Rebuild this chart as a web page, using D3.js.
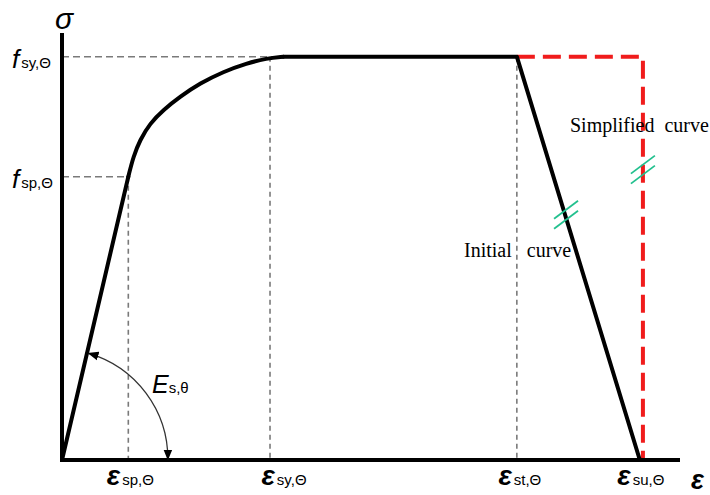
<!DOCTYPE html>
<html><head><meta charset="utf-8">
<script src="https://cdn.jsdelivr.net/npm/d3@7"></script>
<style>
html,body{margin:0;padding:0;background:#fff;}
svg{display:block;}
</style>
</head><body>
<svg id="chart" width="710" height="495"></svg>
<script>
// ---- data (abstract strain / stress units) ----
const strainKeys = [10.73, 33.66, 73.6, 93.5];          // εsp, εsy, εst, εsu
const strainSubs = ["sp,Θ", "sy,Θ", "st,Θ", "su,Θ"];
const stressKeys = [66.35, 94.45];                      // fsp, fsy
const stressSubs = ["sp,Θ", "sy,Θ"];
// initial (EC) curve: elastic branch, knee, plateau, descending branch
const elasticBranch = [[0, 0], [10.73, 66.35]];
const kneeBranch = [[10.73, 66.35], [11.54, 71.03], [12.62, 74.94], [14.24, 78.85], [16.39, 81.97], [19.09, 85.08],
  [22.33, 88.22], [26.10, 90.94], [29.89, 92.90], [33.12, 94.07], [35.81, 94.45]];
const plateauBranch = [[35.81, 94.45], [73.6, 94.45], [93.5, 0]];
// simplified curve
const simplifiedCurve = [[73.6, 94.45], [94.0, 94.45], [94.0, 0]];
const curveLabels = ["Initial   curve", "Simplified  curve"];

const svg = d3.select("#chart");
const x = d3.scaleLinear().domain([0, 100]).range([62, 680]);
const y = d3.scaleLinear().domain([0, 100]).range([460, 33]);

const line = d3.line().x(d => x(d[0])).y(d => y(d[1]));
const lineCurve = d3.line().x(d => x(d[0])).y(d => y(d[1])).curve(d3.curveBasis);

const grey = "#7a7a7a";
// dashed reference lines
const gDash = svg.append("g").attr("stroke", grey).attr("stroke-width", 1.6).attr("stroke-dasharray", "7,4").attr("fill", "none");
gDash.append("line").attr("x1", x(0)).attr("x2", x(strainKeys[0])).attr("y1", y(stressKeys[0])).attr("y2", y(stressKeys[0]));
gDash.append("line").attr("x1", x(0)).attr("x2", x(strainKeys[1]) + 6).attr("y1", y(stressKeys[1])).attr("y2", y(stressKeys[1]));
const vDash = svg.append("g").attr("stroke", grey).attr("stroke-width", 1.6).attr("stroke-dasharray", "5,4").attr("fill", "none");
vDash.append("line").attr("x1", x(strainKeys[0])).attr("x2", x(strainKeys[0])).attr("y1", y(stressKeys[0])).attr("y2", y(0));
vDash.append("line").attr("x1", x(strainKeys[1])).attr("x2", x(strainKeys[1])).attr("y1", y(stressKeys[1])).attr("y2", y(0));
vDash.append("line").attr("x1", x(strainKeys[2])).attr("x2", x(strainKeys[2])).attr("y1", y(stressKeys[1])).attr("y2", y(0));

// simplified curve (red dashed)
svg.append("path").attr("d", line(simplifiedCurve))
  .attr("fill", "none").attr("stroke", "#f01c1c").attr("stroke-width", 4)
  .attr("stroke-dasharray", "18,8").attr("stroke-linejoin", "round");

// initial curve
const cg = svg.append("g").attr("fill", "none").attr("stroke", "#000").attr("stroke-width", 4).attr("stroke-linejoin", "round").attr("stroke-linecap", "round");
cg.append("path").attr("d", line(elasticBranch));
cg.append("path").attr("d", lineCurve(kneeBranch));
cg.append("path").attr("d", line(plateauBranch));

// axes
svg.append("line").attr("x1", x(0)).attr("x2", x(0)).attr("y1", y(100)).attr("y2", y(0) + 2)
  .attr("stroke", "#000").attr("stroke-width", 4);
svg.append("line").attr("x1", x(0) - 2).attr("x2", x(100)).attr("y1", y(0)).attr("y2", y(0))
  .attr("stroke", "#000").attr("stroke-width", 4);

// green break marks
function breakMarks(px, py) {
  const g = svg.append("g").attr("stroke", "#22c08e").attr("stroke-width", 1.8);
  [-5, 5].forEach(o => {
    g.append("line").attr("x1", px - 12).attr("y1", py + 9 + o)
      .attr("x2", px + 12).attr("y2", py - 9 + o);
  });
}
// on descending branch at strain 81.4
const sBreak = 81.4;
const tB = (sBreak - plateauBranch[1][0]) / (plateauBranch[2][0] - plateauBranch[1][0]);
breakMarks(x(sBreak) + 1, y(plateauBranch[1][1] * (1 - tB)));
breakMarks(x(simplifiedCurve[1][0]), y(68.0));

// E arc with arrowheads
const defs = svg.append("defs");
defs.append("marker").attr("id", "arr").attr("viewBox", "0 0 10 10").attr("refX", 9).attr("refY", 5)
  .attr("markerWidth", 11).attr("markerHeight", 11).attr("markerUnits", "userSpaceOnUse").attr("orient", "auto-start-reverse")
  .append("path").attr("d", "M0,1 L10,5 L0,9 Z").attr("fill", "#000");
const ox = x(0), oy = y(0), R = 110;
const a1 = 76 * Math.PI / 180, a2 = 3 * Math.PI / 180;
svg.append("path")
  .attr("d", `M${ox + R * Math.cos(a1)},${oy - R * Math.sin(a1)} A${R},${R} 0 0 1 ${ox + (R - 4) * Math.cos(a2)},${oy - (R - 4) * Math.sin(a2) + 5}`)
  .attr("fill", "none").attr("stroke", "#333").attr("stroke-width", 1.3)
  .attr("marker-start", "url(#arr)").attr("marker-end", "url(#arr)");

const sans = "'Liberation Sans', Arial, sans-serif";
// E label
const eT = svg.append("text").attr("x", 152).attr("y", 393).attr("font-family", sans).attr("fill", "#000");
eT.append("tspan").attr("font-size", 25).attr("font-style", "italic").text("E");
eT.append("tspan").attr("font-size", 15).text("s,θ");

// sigma
svg.append("text").attr("x", x(0) + 2).attr("y", 29).attr("text-anchor", "middle").attr("font-family", sans)
  .attr("font-size", 30).attr("font-style", "italic").text("σ");
// strain axis label
svg.append("text").attr("x", 691).attr("y", 489).attr("font-family", sans)
  .attr("font-size", 27).attr("font-style", "italic").attr("font-weight", "bold").text("ε");

// stress labels
stressKeys.forEach((v, i) => {
  const t = svg.append("text").attr("x", 12).attr("y", y(v) + 11).attr("font-family", sans);
  t.append("tspan").attr("font-size", 26).attr("font-style", "italic").text("f");
  t.append("tspan").attr("font-size", 15).attr("dx", 2).text(stressSubs[i]);
});
// strain labels
const dxs = [2, 14, 3, 1];
strainKeys.forEach((v, i) => {
  const t = svg.append("text").attr("x", x(v) + dxs[i]).attr("y", 485).attr("text-anchor", "middle").attr("font-family", sans);
  t.append("tspan").attr("font-size", 28).attr("font-style", "italic").attr("font-weight", "bold").text("ε");
  t.append("tspan").attr("font-size", 15).attr("dx", 2).text(strainSubs[i]);
});

// curve labels (serif)
const serif = "'Liberation Serif', 'Times New Roman', serif";
svg.append("text").attr("x", 464).attr("y", 257).attr("font-family", serif).attr("font-size", 20)
  .style("white-space", "pre").text(curveLabels[0]);
svg.append("text").attr("x", 570).attr("y", 132).attr("font-family", serif).attr("font-size", 20)
  .style("white-space", "pre").text(curveLabels[1]);
</script>
</body></html>
